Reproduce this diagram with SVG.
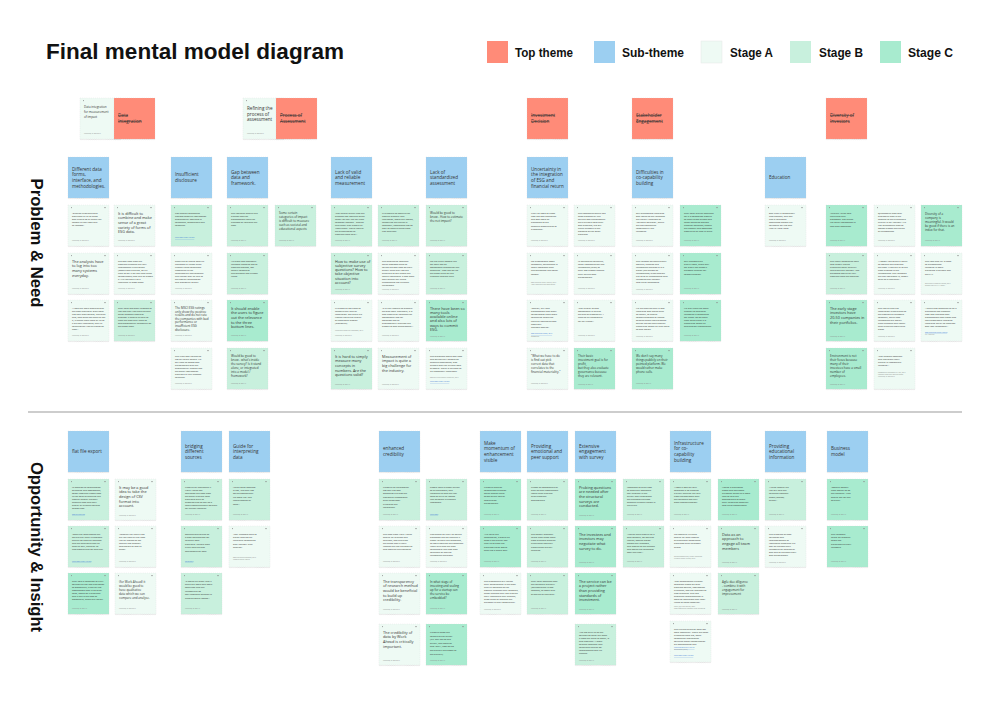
<svg xmlns="http://www.w3.org/2000/svg" xmlns:xlink="http://www.w3.org/1999/xlink" width="1000" height="707" viewBox="0 0 1000 707">
<defs>
<filter id="sh" x="-10%" y="-10%" width="130%" height="130%"><feDropShadow dx="0" dy="0.6" stdDeviation="0.6" flood-color="#000" flood-opacity="0.16"/></filter>
<g id="mk"><rect x="3" y="2.2" width="0.9" height="0.9" fill="#8a8a8a"/><rect x="36.3" y="2.2" width="1.4" height="0.9" fill="#8a8a8a"/></g>
</defs>
<style>
.n{stroke:#d6d6d6;stroke-width:0.35;stroke-dasharray:0.6 1.3;filter:url(#sh)}
.A{fill:#eefaf4}.B{fill:#c8f0dd}.C{fill:#a8ebcf}.T{fill:#ff8b78}.S{fill:#9ccff1}
text{font-family:"Open Sans","Liberation Sans",sans-serif;fill:#333}
.h{font-size:4.6px}
.l{font-size:3.8px}
.m{font-size:3px}
.s{font-size:2.3px}
.f{font-size:1.6px;fill:#8a8a8a}
.k{fill:#3a78d6;text-decoration:underline}
.x{text-decoration:line-through}
.ttl{font-family:"Liberation Sans",Arial,sans-serif;font-weight:bold;fill:#111}
.lg{font-family:"Liberation Sans",Arial,sans-serif;font-weight:bold;font-size:12px;fill:#111}
</style>
<rect width="1000" height="707" fill="#ffffff"/>

<g id="header">
<text class="ttl" x="46" y="59" font-size="22.5" textLength="298" lengthAdjust="spacingAndGlyphs">Final mental model diagram</text>
</g>
<g id="legend">
<rect x="487" y="41" width="21" height="22" class="T"/><text class="lg" x="515" y="56.5" textLength="58" lengthAdjust="spacingAndGlyphs">Top theme</text>
<rect x="594" y="41" width="21" height="22" class="S"/><text class="lg" x="622" y="56.5" textLength="62" lengthAdjust="spacingAndGlyphs">Sub-theme</text>
<rect x="701" y="41" width="21" height="22" class="A" stroke="#e2e2e2" stroke-width="0.4"/><text class="lg" x="730" y="56.5" textLength="43" lengthAdjust="spacingAndGlyphs">Stage A</text>
<rect x="790" y="41" width="21" height="22" class="B"/><text class="lg" x="819" y="56.5" textLength="44" lengthAdjust="spacingAndGlyphs">Stage B</text>
<rect x="880" y="41" width="21" height="22" class="C"/><text class="lg" x="908" y="56.5" textLength="45" lengthAdjust="spacingAndGlyphs">Stage C</text>
</g>

<g id="section-labels">
<text class="ttl" font-size="16.5" text-anchor="middle" dy="0.35em" transform="translate(37,243) rotate(90)" textLength="129" lengthAdjust="spacingAndGlyphs">Problem &amp; Need</text>
<text class="ttl" font-size="16.5" text-anchor="middle" dy="0.35em" transform="translate(37,547) rotate(90)" textLength="170" lengthAdjust="spacingAndGlyphs">Opportunity &amp; Insight</text>
<line x1="28" y1="412" x2="962" y2="412" stroke="#bdbdbd" stroke-width="1.3"/>
</g>

<g id="connectors"></g>

<!-- ===== PROBLEM & NEED : top themes ===== -->
<g id="pn-top-data-integration-note" transform="translate(80,98)"><rect class="n A" width="41" height="41"/><use href="#mk"/><text class="m" y="9.7"><tspan x="4">Data integration</tspan><tspan x="4" dy="5">for measurement</tspan><tspan x="4" dy="5">of impact</tspan></text><text class="f" x="4" y="36">Interview, 24 Sep 2019</text></g>
<g id="pn-top-data-integration" transform="translate(114,98)"><rect class="n T" width="41" height="41"/><text class="h x" y="19.3"><tspan x="4">Data</tspan><tspan x="4" dy="5.6">Integration</tspan></text></g>
<g id="pn-top-process-note" transform="translate(243,98)"><rect class="n A" width="41" height="41"/><use href="#mk"/><text class="h" y="11.8"><tspan x="4">Refining the</tspan><tspan x="4" dy="5.8">process of</tspan><tspan x="4" dy="5.8">assessment</tspan></text><text class="f" x="4" y="36">Interview, 24 Sep 2019</text></g>
<g id="pn-top-process" transform="translate(276,98)"><rect class="n T" width="41" height="41"/><text class="h x" y="19.3"><tspan x="4">Process of</tspan><tspan x="4" dy="5.6">Assessment</tspan></text></g>
<g id="pn-top-investment" transform="translate(527,98)"><rect class="n T" width="41" height="41"/><text class="h x" y="19.3"><tspan x="4">Investment</tspan><tspan x="4" dy="5.6">Decision</tspan></text></g>
<g id="pn-top-stakeholder" transform="translate(632,98)"><rect class="n T" width="41" height="41"/><text class="h x" y="19.3"><tspan x="4">Stakeholder</tspan><tspan x="4" dy="5.6">Engagement</tspan></text></g>
<g id="pn-top-diversity" transform="translate(826,98)"><rect class="n T" width="41" height="41"/><text class="h x" y="19.3"><tspan x="4">Diversity of</tspan><tspan x="4" dy="5.6">Investors</tspan></text></g>

<!-- ===== PROBLEM & NEED : sub-themes ===== -->
<g id="pn-sub-data-forms" transform="translate(68,157)"><rect class="n S" width="41" height="41"/><text class="h" y="13.7"><tspan x="4">Different data</tspan><tspan x="4" dy="5.6">forms,</tspan><tspan x="4" dy="5.6">interface, and</tspan><tspan x="4" dy="5.6">methodologies.</tspan></text></g>
<g id="pn-sub-disclosure" transform="translate(171,157)"><rect class="n S" width="41" height="41"/><text class="h" y="19.3"><tspan x="4">Insufficient</tspan><tspan x="4" dy="5.6">disclosure</tspan></text></g>
<g id="pn-sub-gap" transform="translate(227,157)"><rect class="n S" width="41" height="41"/><text class="h" y="16.5"><tspan x="4">Gap between</tspan><tspan x="4" dy="5.6">data and</tspan><tspan x="4" dy="5.6">framework.</tspan></text></g>
<g id="pn-sub-valid" transform="translate(331,157)"><rect class="n S" width="41" height="41"/><text class="h" y="16.5"><tspan x="4">Lack of valid</tspan><tspan x="4" dy="5.6">and reliable</tspan><tspan x="4" dy="5.6">measurement</tspan></text></g>
<g id="pn-sub-standardized" transform="translate(426,157)"><rect class="n S" width="41" height="41"/><text class="h" y="16.5"><tspan x="4">Lack of</tspan><tspan x="4" dy="5.6">standardized</tspan><tspan x="4" dy="5.6">assessment</tspan></text></g>
<g id="pn-sub-uncertainty" transform="translate(527,157)"><rect class="n S" width="41" height="41"/><text class="h" y="13.7"><tspan x="4">Uncertainty in</tspan><tspan x="4" dy="5.6">the integration</tspan><tspan x="4" dy="5.6">of ESG and</tspan><tspan x="4" dy="5.6">financial return</tspan></text></g>
<g id="pn-sub-difficulties" transform="translate(632,157)"><rect class="n S" width="41" height="41"/><text class="h" y="16.5"><tspan x="4">Difficulties in</tspan><tspan x="4" dy="5.6">co-capability</tspan><tspan x="4" dy="5.6">building</tspan></text></g>
<g id="pn-sub-education" transform="translate(765,157)"><rect class="n S" width="41" height="41"/><text class="h" y="22.1"><tspan x="4">Education</tspan></text></g>

<!-- ===== PROBLEM & NEED : notes ===== -->
<g id="pn-68-1" transform="translate(68,205)"><rect class="n A" width="41" height="41"/><use href="#mk"/><text class="s" y="8.5"><tspan x="4">"External providers with</tspan><tspan x="4" dy="3.1">own-scale or all of these</tspan><tspan x="4" dy="3.1">ESG criteria so all these risk</tspan><tspan x="4" dy="3.1">factors in their own way</tspan><tspan x="4" dy="3.1">at random"</tspan></text><text class="f" x="4" y="36">Interview, 24 Sep 2019</text></g>
<g id="pn-68-2" transform="translate(68,253)"><rect class="n A" width="41" height="41"/><use href="#mk"/><text class="l" y="9.5"><tspan x="4">The analysts have</tspan><tspan x="4" dy="4.7">to log into too</tspan><tspan x="4" dy="4.7">many systems</tspan><tspan x="4" dy="4.7">everyday.</tspan></text><text class="f" x="4" y="36">Interview, 24 Sep 2019</text></g>
<g id="pn-68-3" transform="translate(68,300)"><rect class="n A" width="41" height="41"/><use href="#mk"/><text class="s" y="8.5"><tspan x="4">"I hate the main problem with</tspan><tspan x="4" dy="3.1">the data providers. Everybody</tspan><tspan x="4" dy="3.1">has their own format, including</tspan><tspan x="4" dy="3.1">that, also when we need to use</tspan><tspan x="4" dy="3.1">it, it needs input from all up to</tspan><tspan x="4" dy="3.1">it on their interfaces, they're</tspan><tspan x="4" dy="3.1">continuously just be changing</tspan><tspan x="4" dy="3.1">data."</tspan></text><text class="f" x="4" y="36">Interview, 24 Sep 2019</text></g>

<g id="pn-114-1" transform="translate(114,205)"><rect class="n A" width="41" height="41"/><use href="#mk"/><text class="l" y="9.5"><tspan x="4">It is difficult to</tspan><tspan x="4" dy="4.7">combine and make</tspan><tspan x="4" dy="4.7">sense of a great</tspan><tspan x="4" dy="4.7">variety of forms of</tspan><tspan x="4" dy="4.7">ESG data.</tspan></text><text class="f" x="4" y="36">Interview, 24 Sep 2019</text></g>
<g id="pn-114-2" transform="translate(114,253)"><rect class="n A" width="41" height="41"/><use href="#mk"/><text class="s" y="8.5"><tspan x="4">The ESG data from the</tspan><tspan x="4" dy="3.1">different channels are very</tspan><tspan x="4" dy="3.1">inconsistent in the forms.</tspan><tspan x="4" dy="3.1">(Stated with pictures, so it's</tspan><tspan x="4" dy="3.1">hard to say if we can have them</tspan><tspan x="4" dy="3.1">consolidated) also due to reason</tspan><tspan x="4" dy="3.1">it. We just take it as a</tspan><tspan x="4" dy="3.1">reference in most cases.</tspan></text><text class="f" x="4" y="36">Interview, 24 Sep 2019</text></g>
<g id="pn-114-3" transform="translate(114,300)"><rect class="n B" width="41" height="41"/><use href="#mk"/><text class="s" y="8.5"><tspan x="4">They have too many systems to</tspan><tspan x="4" dy="3.1">use and they just have to keep</tspan><tspan x="4" dy="3.1">going between different</tspan><tspan x="4" dy="3.1">systems. It should be able to</tspan><tspan x="4" dy="3.1">have the data they need as</tspan><tspan x="4" dy="3.1">straightforwardly accessible on</tspan><tspan x="4" dy="3.1">the same page.</tspan></text><text class="f" x="4" y="36">Interview, 26 Sep 2019</text></g>

<g id="pn-171-1" transform="translate(171,205)"><rect class="n B" width="41" height="41"/><use href="#mk"/><text class="s" y="8.5"><tspan x="4">Not enough companies</tspan><tspan x="4" dy="3.1">disclose material information</tspan><tspan x="4" dy="3.1">sustainability data that is</tspan><tspan x="4" dy="3.1">consistent, comparable and</tspan><tspan x="4" dy="3.1">complete.</tspan></text><text class="f k" x="4" y="33">Read more about this one</text></g>
<g id="pn-171-2" transform="translate(171,253)"><rect class="n A" width="41" height="41"/><use href="#mk"/><text class="s" y="8.5"><tspan x="4">Referring to recent data it's</tspan><tspan x="4" dy="3.1">narrowed by these given</tspan><tspan x="4" dy="3.1">human rights conditions</tspan><tspan x="4" dy="3.1">happening in the</tspan><tspan x="4" dy="3.1">manufacture environment.</tspan><tspan x="4" dy="3.1">The refusal may be due to</tspan><tspan x="4" dy="3.1">the cost of investigation</tspan><tspan x="4" dy="3.1">and disclosure as well.</tspan></text><text class="f" x="4" y="36">Interview, 24 Sep 2019</text></g>
<g id="pn-171-3" transform="translate(171,300)"><rect class="n A" width="41" height="41"/><use href="#mk"/><text class="m" y="9"><tspan x="4">The MSCI ESG ratings</tspan><tspan x="4" dy="3.6">only show the positive</tspan><tspan x="4" dy="3.6">results and do not rate</tspan><tspan x="4" dy="3.6">the companies with bad</tspan><tspan x="4" dy="3.6">performance or</tspan><tspan x="4" dy="3.6">insufficient ESG</tspan><tspan x="4" dy="3.6">disclosure.</tspan></text><text class="f" x="4" y="36">Interview, 24 Sep 2019</text></g>
<g id="pn-171-4" transform="translate(171,348)"><rect class="n A" width="41" height="41"/><use href="#mk"/><text class="s" y="8.5"><tspan x="4">The MSCI ESG ratings do</tspan><tspan x="4" dy="3.1">not tell much details. We</tspan><tspan x="4" dy="3.1">still have to assess ESG</tspan><tspan x="4" dy="3.1">performance with the</tspan><tspan x="4" dy="3.1">sustainability reports and</tspan><tspan x="4" dy="3.1">the other information</tspan><tspan x="4" dy="3.1">provided by the investee</tspan><tspan x="4" dy="3.1">founders.</tspan></text><text class="f" x="4" y="36">Interview, 24 Sep 2019</text></g>

<g id="pn-227-1" transform="translate(227,205)"><rect class="n B" width="41" height="41"/><use href="#mk"/><text class="s" y="8.5"><tspan x="4">The interface should give</tspan><tspan x="4" dy="3.1">a sense that the</tspan><tspan x="4" dy="3.1">professionals have the</tspan><tspan x="4" dy="3.1">freedom to interpret the</tspan><tspan x="4" dy="3.1">data.</tspan></text><text class="f" x="4" y="36">Interview, 26 Sep 19</text></g>
<g id="pn-227-2" transform="translate(227,253)"><rect class="n B" width="41" height="41"/><use href="#mk"/><text class="s" y="8.5"><tspan x="4">An single ESG standard/</tspan><tspan x="4" dy="3.1">indicator contains lots of</tspan><tspan x="4" dy="3.1">different aspects, not</tspan><tspan x="4" dy="3.1">merely complaint</tspan><tspan x="4" dy="3.1">environment and human</tspan><tspan x="4" dy="3.1">rights.</tspan></text><text class="f" x="4" y="36">Interview, 26 Sep 19</text></g>
<g id="pn-227-3" transform="translate(227,300)"><rect class="n C" width="41" height="41"/><use href="#mk"/><text class="l" y="9.5"><tspan x="4">It should enable</tspan><tspan x="4" dy="4.7">the users to figure</tspan><tspan x="4" dy="4.7">out the relevance</tspan><tspan x="4" dy="4.7">to the three</tspan><tspan x="4" dy="4.7">bottom lines.</tspan></text><text class="f" x="4" y="36">Interview, 26 Sep 19</text></g>
<g id="pn-227-4" transform="translate(227,348)"><rect class="n B" width="41" height="41"/><use href="#mk"/><text class="m" y="9"><tspan x="4">Would be good to</tspan><tspan x="4" dy="3.9">know - what's inside</tspan><tspan x="4" dy="3.9">the survey? Is it stand</tspan><tspan x="4" dy="3.9">alone, or integrated</tspan><tspan x="4" dy="3.9">into a model /</tspan><tspan x="4" dy="3.9">framework?</tspan></text><text class="f" x="4" y="36">Interview, 26 Sep 19</text></g>

<g id="pn-275-1" transform="translate(275,205)"><rect class="n B" width="41" height="41"/><use href="#mk"/><text class="m" y="9"><tspan x="4">Some certain</tspan><tspan x="4" dy="3.9">categories of impact</tspan><tspan x="4" dy="3.9">is difficult to measure</tspan><tspan x="4" dy="3.9">such as societal and</tspan><tspan x="4" dy="3.9">educational aspects</tspan></text><text class="f" x="4" y="36">Interview, 26 Sep 19</text></g>

<g id="pn-331-1" transform="translate(331,205)"><rect class="n B" width="41" height="41"/><use href="#mk"/><text class="s" y="8.5"><tspan x="4">"The annual survey that the</tspan><tspan x="4" dy="3.1">question ask wording which</tspan><tspan x="4" dy="3.1">make you feel 'do you have</tspan><tspan x="4" dy="3.1">common impacts' - around</tspan><tspan x="4" dy="3.1">everybody else 'always' or</tspan><tspan x="4" dy="3.1">'used alone'. Could require</tspan><tspan x="4" dy="3.1">the organization to</tspan><tspan x="4" dy="3.1">different from here."</tspan></text><text class="f" x="4" y="36">Interview, 26 Sep 19</text></g>
<g id="pn-331-2" transform="translate(331,253)"><rect class="n B" width="41" height="41"/><use href="#mk"/><text class="l" y="9.5"><tspan x="4">How to make use of</tspan><tspan x="4" dy="4.3">subjective survey</tspan><tspan x="4" dy="4.3">questions? How to</tspan><tspan x="4" dy="4.3">take objective</tspan><tspan x="4" dy="4.3">situation into</tspan><tspan x="4" dy="4.3">account?</tspan></text><text class="f" x="4" y="36.5">Interview, 26 Sep 19</text></g>
<g id="pn-331-3" transform="translate(331,300)"><rect class="n A" width="41" height="41"/><use href="#mk"/><text class="s" y="8.5"><tspan x="4">It is good to ask them to</tspan><tspan x="4" dy="3.1">measure the level of</tspan><tspan x="4" dy="3.1">integration. But there is a</tspan><tspan x="4" dy="3.1">limited use of the quality</tspan><tspan x="4" dy="3.1">of integrated reports</tspan><tspan x="4" dy="3.1">(disclosure).</tspan></text><text class="f" x="4" y="31">Integrated reporting framework, 2019</text><text class="f" x="4" y="36">Interview, 24 Sep 2019</text></g>
<g id="pn-331-4" transform="translate(331,348)"><rect class="n B" width="41" height="41"/><use href="#mk"/><text class="l" y="9.5"><tspan x="4">It is hard to simply</tspan><tspan x="4" dy="4.7">measure many</tspan><tspan x="4" dy="4.7">concepts in</tspan><tspan x="4" dy="4.7">numbers. Are the</tspan><tspan x="4" dy="4.7">questions valid?</tspan></text><text class="f" x="4" y="36.5">Interview, 26 Sep 19</text></g>

<g id="pn-378-1" transform="translate(378,205)"><rect class="n B" width="41" height="41"/><use href="#mk"/><text class="s" y="8.5"><tspan x="4">It is difficult to capture the</tspan><tspan x="4" dy="3.1">data on quantity and</tspan><tspan x="4" dy="3.1">realization, about the impact,</tspan><tspan x="4" dy="3.1">measuring the values in</tspan><tspan x="4" dy="3.1">monetary, sometimes not so</tspan><tspan x="4" dy="3.1">easy to capture them from</tspan><tspan x="4" dy="3.1">just language.</tspan></text><text class="f" x="4" y="36">Interview, 26 Sep 19</text></g>
<g id="pn-378-2" transform="translate(378,253)"><rect class="n A" width="41" height="41"/><use href="#mk"/><text class="s" y="8.5"><tspan x="4">The accounting company</tspan><tspan x="4" dy="3.1">which assesses them to</tspan><tspan x="4" dy="3.1">collect the ESG data on their</tspan><tspan x="4" dy="3.1">supply chain only ask the</tspan><tspan x="4" dy="3.1">suppliers to self-report the</tspan><tspan x="4" dy="3.1">labour conditions. It was done</tspan><tspan x="4" dy="3.1">with neither any direct</tspan><tspan x="4" dy="3.1">engagement nor external</tspan><tspan x="4" dy="3.1">verification.</tspan></text><text class="f" x="4" y="37">Interview, 24 Sep 2019</text></g>
<g id="pn-378-3" transform="translate(378,300)"><rect class="n A" width="41" height="41"/><use href="#mk"/><text class="s" y="8.5"><tspan x="4">"It is very difficult to quantify</tspan><tspan x="4" dy="3.1">the ESG data. Therefore, it is</tspan><tspan x="4" dy="3.1">also difficult to integrate the</tspan><tspan x="4" dy="3.1">assessment into my</tspan><tspan x="4" dy="3.1">workflow and to</tspan><tspan x="4" dy="3.1">systematically evaluate the</tspan><tspan x="4" dy="3.1">growth of ESG performance."</tspan></text><text class="f" x="4" y="36">Interview, 24 Sep 2019</text></g>
<g id="pn-378-4" transform="translate(378,348)"><rect class="n A" width="41" height="41"/><use href="#mk"/><text class="l" y="9.5"><tspan x="4">Measurement of</tspan><tspan x="4" dy="4.7">impact is quite a</tspan><tspan x="4" dy="4.7">big challenge for</tspan><tspan x="4" dy="4.7">the industry.</tspan></text><text class="f" x="4" y="36.5">Interview, 24 Sep 2019</text></g>

<g id="pn-426-1" transform="translate(426,205)"><rect class="n B" width="41" height="41"/><use href="#mk"/><text class="m" y="9"><tspan x="4">Would be good to</tspan><tspan x="4" dy="3.9">know - How to estimate</tspan><tspan x="4" dy="3.9">the net impact?</tspan></text><text class="f" x="4" y="36">Interview, 26 Sep 19</text></g>
<g id="pn-426-2" transform="translate(426,253)"><rect class="n B" width="41" height="41"/><use href="#mk"/><text class="s" y="8.5"><tspan x="4">For the triple bottom line</tspan><tspan x="4" dy="3.1">we have had an</tspan><tspan x="4" dy="3.1">assessment process for the</tspan><tspan x="4" dy="3.1">financials - how can we do</tspan><tspan x="4" dy="3.1">the same thing for the</tspan><tspan x="4" dy="3.1">humans involved here.</tspan></text><text class="f" x="4" y="36">Interview, 26 Sep 19</text></g>
<g id="pn-426-3" transform="translate(426,300)"><rect class="n C" width="41" height="41"/><use href="#mk"/><text class="l" y="9.5"><tspan x="4">There have been so</tspan><tspan x="4" dy="4.3">many tools</tspan><tspan x="4" dy="4.3">available online</tspan><tspan x="4" dy="4.3">and also lots of</tspan><tspan x="4" dy="4.3">ways to commit</tspan><tspan x="4" dy="4.3">ESG.</tspan></text><text class="f" x="4" y="36.5">Interview, 26 Sep 19</text></g>
<g id="pn-426-4" transform="translate(426,348)"><rect class="n A" width="41" height="41"/><use href="#mk"/><text class="s" y="8.5"><tspan x="4">The questions about ESG data</tspan><tspan x="4" dy="3.1">and structurally comparing</tspan><tspan x="4" dy="3.1">financial statements, also</tspan><tspan x="4" dy="3.1">aligned with the current data</tspan><tspan x="4" dy="3.1">of affairs. There is no hope to</tspan><tspan x="4" dy="3.1">be reasonably integrated.</tspan></text><text class="f" x="4" y="29.5">ESG data and financial reporting, 2019</text><text class="f k" x="4" y="34">Read more about this one</text></g>

<g id="pn-527-1" transform="translate(527,205)"><rect class="n A" width="41" height="41"/><use href="#mk"/><text class="s" y="8.5"><tspan x="4">It will be good to know</tspan><tspan x="4" dy="3.3">how can ESG standards</tspan><tspan x="4" dy="3.3">and ESG goals be</tspan><tspan x="4" dy="3.3">translated to the</tspan><tspan x="4" dy="3.3">financial materialities of</tspan><tspan x="4" dy="3.3">a company.</tspan></text><text class="f" x="4" y="36">Interview, 24 Sep 2019</text></g>
<g id="pn-527-2" transform="translate(527,253)"><rect class="n A" width="41" height="41"/><use href="#mk"/><text class="s" y="8.5"><tspan x="4">For professional asset</tspan><tspan x="4" dy="3.3">managers, governance is</tspan><tspan x="4" dy="3.3">more important than</tspan><tspan x="4" dy="3.3">environmental and social</tspan><tspan x="4" dy="3.3">factors.</tspan></text><text class="f" x="4" y="30">ESG investing survey results, 2019</text><text class="f" x="4" y="32">Asset managers and governance</text></g>
<g id="pn-527-3" transform="translate(527,300)"><rect class="n A" width="41" height="41"/><use href="#mk"/><text class="s" y="8.5"><tspan x="4">"Overall, buy-side</tspan><tspan x="4" dy="3.3">professionals and many</tspan><tspan x="4" dy="3.3">corporations need more</tspan><tspan x="4" dy="3.3">convincing about the</tspan><tspan x="4" dy="3.3">value of integrating ESG</tspan><tspan x="4" dy="3.3">data their</tspan><tspan x="4" dy="3.3">decision making"</tspan></text><text class="f k" x="4" y="34">ESG integration report, 2019</text><text class="f" x="4" y="36.5">Bloomberg</text></g>
<g id="pn-527-4" transform="translate(527,348)"><rect class="n A" width="41" height="41"/><use href="#mk"/><text class="m" y="9"><tspan x="4">"What we have to do</tspan><tspan x="4" dy="3.9">is find out pick</tspan><tspan x="4" dy="3.9">correct data that</tspan><tspan x="4" dy="3.9">correlates to the</tspan><tspan x="4" dy="3.9">financial materiality."</tspan></text><text class="f" x="4" y="36">Interview, 24 Sep 2019</text></g>

<g id="pn-574-1" transform="translate(574,205)"><rect class="n A" width="41" height="41"/><use href="#mk"/><text class="s" y="8.5"><tspan x="4">The companies which has</tspan><tspan x="4" dy="3.1">good profitability but</tspan><tspan x="4" dy="3.1">terrible ESG performance</tspan><tspan x="4" dy="3.1">are excluded from their</tspan><tspan x="4" dy="3.1">ESG products, but still</tspan><tspan x="4" dy="3.1">being invested in the</tspan><tspan x="4" dy="3.1">portfolio of the other</tspan><tspan x="4" dy="3.1">products.</tspan></text><text class="f" x="4" y="36">Interview, 24 Sep 2019</text></g>
<g id="pn-574-2" transform="translate(574,253)"><rect class="n A" width="41" height="41"/><use href="#mk"/><text class="s" y="8.5"><tspan x="4">In developing countries,</tspan><tspan x="4" dy="3.3">many companies still get</tspan><tspan x="4" dy="3.3">investment (arise) of</tspan><tspan x="4" dy="3.3">their fast growth despite</tspan><tspan x="4" dy="3.3">their terrible ESG</tspan><tspan x="4" dy="3.3">performance.</tspan></text><text class="f" x="4" y="36">Interview, 24 Sep 2019</text></g>
<g id="pn-574-3" transform="translate(574,300)"><rect class="n A" width="41" height="41"/><use href="#mk"/><text class="s" y="8.5"><tspan x="4">"The priority of ESG</tspan><tspan x="4" dy="3.3">assessment is behind</tspan><tspan x="4" dy="3.3">the one of profitability. I</tspan><tspan x="4" dy="3.3">need to be responsible</tspan><tspan x="4" dy="3.3">for my clients."</tspan></text><text class="f" x="4" y="36">Interview, 24 Sep 2019</text></g>
<g id="pn-574-4" transform="translate(574,348)"><rect class="n C" width="41" height="41"/><use href="#mk"/><text class="m" y="9"><tspan x="4">Their basic</tspan><tspan x="4" dy="3.9">investment goal is for</tspan><tspan x="4" dy="3.9">profit,</tspan><tspan x="4" dy="3.9">but they also evaluate</tspan><tspan x="4" dy="3.9">governance because</tspan><tspan x="4" dy="3.9">they are relevant.</tspan></text><text class="f" x="4" y="36.5">Interview, 26 Sep 19</text></g>

<g id="pn-632-1" transform="translate(632,205)"><rect class="n A" width="41" height="41"/><use href="#mk"/><text class="s" y="8.5"><tspan x="4">Our suggestions regarding</tspan><tspan x="4" dy="3.1">ESG issues to the investees</tspan><tspan x="4" dy="3.1">are usually regarded as</tspan><tspan x="4" dy="3.1">"valuable opinions", which</tspan><tspan x="4" dy="3.1">are not considered</tspan><tspan x="4" dy="3.1">important by the</tspan><tspan x="4" dy="3.1">investees.</tspan></text><text class="f" x="4" y="36">Interview, 24 Sep 2019</text></g>
<g id="pn-632-2" transform="translate(632,253)"><rect class="n A" width="41" height="41"/><use href="#mk"/><text class="s" y="8.5"><tspan x="4">The investor founders aren't</tspan><tspan x="4" dy="3.1">worried, because this</tspan><tspan x="4" dy="3.1">investment decision is in a</tspan><tspan x="4" dy="3.1">pretty (the person of</tspan><tspan x="4" dy="3.1">investments) is not enough</tspan><tspan x="4" dy="3.1">but as to all engagement with</tspan><tspan x="4" dy="3.1">investees and industry</tspan><tspan x="4" dy="3.1">long-term investment.</tspan></text><text class="f" x="4" y="36.5">Interview, 24 Sep 2019</text></g>
<g id="pn-632-3" transform="translate(632,300)"><rect class="n A" width="41" height="41"/><use href="#mk"/><text class="s" y="8.5"><tspan x="4">We are worried they'd lose</tspan><tspan x="4" dy="3.1">regarding ESG issues such</tspan><tspan x="4" dy="3.1">as labour, to ensure</tspan><tspan x="4" dy="3.1">communications or repeat</tspan><tspan x="4" dy="3.1">sending these requirements.</tspan><tspan x="4" dy="3.1">But we do not have enough</tspan><tspan x="4" dy="3.1">bargaining power to urge them</tspan><tspan x="4" dy="3.1">to take action.</tspan></text><text class="f" x="4" y="36.5">Interview, 24 Sep 2019</text></g>
<g id="pn-632-4" transform="translate(632,348)"><rect class="n C" width="41" height="41"/><use href="#mk"/><text class="m" y="9"><tspan x="4">We don't say many</tspan><tspan x="4" dy="3.9">things publicly on their</tspan><tspan x="4" dy="3.9">pointed platform. We</tspan><tspan x="4" dy="3.9">would rather make</tspan><tspan x="4" dy="3.9">phone calls.</tspan></text><text class="f" x="4" y="36">Interview, 26 Sep 19</text></g>

<g id="pn-680-1" transform="translate(680,205)"><rect class="n C" width="41" height="41"/><use href="#mk"/><text class="s" y="8.5"><tspan x="4">They have regular meetings</tspan><tspan x="4" dy="3.1">for it is somewhat difficult</tspan><tspan x="4" dy="3.1">to keep things private and</tspan><tspan x="4" dy="3.1">make concerns opened</tspan><tspan x="4" dy="3.1">because meetings, people</tspan><tspan x="4" dy="3.1">are hopeful and somehow</tspan><tspan x="4" dy="3.1">difficult to be kept in mind.</tspan></text><text class="f" x="4" y="36">Interview, 26 Sep 19</text></g>
<g id="pn-680-2" transform="translate(680,253)"><rect class="n C" width="41" height="41"/><use href="#mk"/><text class="s" y="8.5"><tspan x="4">Our investees are</tspan><tspan x="4" dy="3.3">public-listed, that's why</tspan><tspan x="4" dy="3.3">we didn't use demo-ti</tspan><tspan x="4" dy="3.3">personal channel for</tspan><tspan x="4" dy="3.3">communication.</tspan></text><text class="f" x="4" y="36">Interview, 26 Sep 19</text></g>
<g id="pn-680-3" transform="translate(680,300)"><rect class="n C" width="41" height="41"/><use href="#mk"/><text class="s" y="8.5"><tspan x="4">We only have the small</tspan><tspan x="4" dy="3.1">number of shares of</tspan><tspan x="4" dy="3.1">investees in companies</tspan><tspan x="4" dy="3.1">we invest. So we don't</tspan><tspan x="4" dy="3.1">have much since it is</tspan><tspan x="4" dy="3.1">bargaining power of</tspan><tspan x="4" dy="3.1">shareholder engagement.</tspan></text><text class="f" x="4" y="36">Interview, 26 Sep 19</text></g>

<g id="pn-765-1" transform="translate(765,205)"><rect class="n A" width="41" height="41"/><use href="#mk"/><text class="s" y="8.5"><tspan x="4">ESG is still a comparably</tspan><tspan x="4" dy="3.1">new concept, and has</tspan><tspan x="4" dy="3.1">had a increasing</tspan><tspan x="4" dy="3.1">awareness among her</tspan><tspan x="4" dy="3.1">colleague for just one</tspan><tspan x="4" dy="3.1">year in Hong Kong.</tspan></text><text class="f" x="4" y="36">Interview, 24 Sep 2019</text></g>

<g id="pn-826-1" transform="translate(826,205)"><rect class="n C" width="41" height="41"/><use href="#mk"/><text class="s" y="8.5"><tspan x="4">"Culture" is the core</tspan><tspan x="4" dy="3.3">value that they</tspan><tspan x="4" dy="3.3">promoted. The things</tspan><tspan x="4" dy="3.3">like salary satisfaction is</tspan><tspan x="4" dy="3.3">less than important.</tspan></text><text class="f" x="4" y="36">Interview, 26 Sep 19</text></g>
<g id="pn-826-2" transform="translate(826,253)"><rect class="n B" width="41" height="41"/><use href="#mk"/><text class="s" y="8.5"><tspan x="4">The larger companies have</tspan><tspan x="4" dy="3.1">long supply chains</tspan><tspan x="4" dy="3.1">extending many miles by</tspan><tspan x="4" dy="3.1">levels and the industry. The</tspan><tspan x="4" dy="3.1">situations would be very</tspan><tspan x="4" dy="3.1">different from the startups.</tspan></text><text class="f" x="4" y="36">Interview, 26 Sep 19</text></g>
<g id="pn-826-3" transform="translate(826,300)"><rect class="n C" width="41" height="41"/><use href="#mk"/><text class="l" y="9.5"><tspan x="4">The early stage</tspan><tspan x="4" dy="4.7">investors have</tspan><tspan x="4" dy="4.7">20-50 companies in</tspan><tspan x="4" dy="4.7">their portfolios.</tspan></text><text class="f" x="4" y="36.5">Interview, 26 Sep 19</text></g>
<g id="pn-826-4" transform="translate(826,348)"><rect class="n C" width="41" height="41"/><use href="#mk"/><text class="m" y="9"><tspan x="4">Environment is not</tspan><tspan x="4" dy="3.9">their focus because</tspan><tspan x="4" dy="3.9">many of their</tspan><tspan x="4" dy="3.9">investees have a small</tspan><tspan x="4" dy="3.9">number of</tspan><tspan x="4" dy="3.9">employees.</tspan></text><text class="f" x="4" y="36.5">Interview, 26 Sep 19</text></g>

<g id="pn-874-1" transform="translate(874,205)"><rect class="n A" width="41" height="41"/><use href="#mk"/><text class="s" y="8.5"><tspan x="4">Quantitative data over</tspan><tspan x="4" dy="3.1">qualitative data is the</tspan><tspan x="4" dy="3.1">essence of the exchange's</tspan><tspan x="4" dy="3.1">culture in my industry. We</tspan><tspan x="4" dy="3.1">use quantitative data to</tspan><tspan x="4" dy="3.1">assess almost everything</tspan><tspan x="4" dy="3.1">of investments.</tspan></text><text class="f" x="4" y="36">Interview, 24 Sep 2019</text></g>
<g id="pn-874-2" transform="translate(874,253)"><rect class="n A" width="41" height="41"/><use href="#mk"/><text class="s" y="8.5"><tspan x="4">"I mostly use found a result</tspan><tspan x="4" dy="3.1">as models and provides</tspan><tspan x="4" dy="3.1">the data. What are all of the</tspan><tspan x="4" dy="3.1">basic process in the</tspan><tspan x="4" dy="3.1">investments. The investors</tspan><tspan x="4" dy="3.1">are not interested in, mostly</tspan><tspan x="4" dy="3.1">seen as a reference."</tspan></text><text class="f" x="4" y="36">Interview, 24 Sep 2019</text></g>
<g id="pn-874-3" transform="translate(874,300)"><rect class="n A" width="41" height="41"/><use href="#mk"/><text class="s" y="8.5"><tspan x="4">The lack of help the</tspan><tspan x="4" dy="3.1">integration is attributed to</tspan><tspan x="4" dy="3.1">the essence of investors'</tspan><tspan x="4" dy="3.1">company, which was</tspan><tspan x="4" dy="3.1">investment are mainly</tspan><tspan x="4" dy="3.1">been engaged and rather</tspan><tspan x="4" dy="3.1">than pursuing short term</tspan><tspan x="4" dy="3.1">profit.</tspan></text><text class="f" x="4" y="36.5">Interview, 24 Sep 2019</text></g>
<g id="pn-874-4" transform="translate(874,348)"><rect class="n A" width="41" height="41"/><use href="#mk"/><text class="s" y="8.5"><tspan x="4">"The pension company</tspan><tspan x="4" dy="3.3">and insurance really</tspan><tspan x="4" dy="3.3">believe in responsible</tspan><tspan x="4" dy="3.3">investing."</tspan></text><text class="f" x="4" y="25">Responsible investment in Asia, 2019</text><text class="f" x="4" y="27">Pension funds and insurers report</text><text class="f" x="4" y="29">Interview, 24 Sep 2019</text></g>

<g id="pn-921-1" transform="translate(921,205)"><rect class="n C" width="41" height="41"/><use href="#mk"/><text class="m" y="9.5"><tspan x="4">Diversity of a</tspan><tspan x="4" dy="4">company is</tspan><tspan x="4" dy="4">meaningful. It would</tspan><tspan x="4" dy="4">be good if there is an</tspan><tspan x="4" dy="4">index for that.</tspan></text><text class="f" x="4" y="36">Interview, 26 Sep 19</text></g>
<g id="pn-921-2" transform="translate(921,253)"><rect class="n A" width="41" height="41"/><use href="#mk"/><text class="s" y="8.5"><tspan x="4">The idea that UN is close</tspan><tspan x="4" dy="3.3">to fundamental</tspan><tspan x="4" dy="3.3">investing is more</tspan><tspan x="4" dy="3.3">prevalent in Europe and</tspan><tspan x="4" dy="3.3">the U.K.</tspan></text><text class="f" x="4" y="31">Sustainable investing review, 2019</text><text class="f" x="4" y="33">Europe and the U.K. report</text></g>
<g id="pn-921-3" transform="translate(921,300)"><rect class="n A" width="41" height="41"/><use href="#mk"/><text class="s" y="8.5"><tspan x="4">" There also appeared to be a</tspan><tspan x="4" dy="3.1">significant gap between</tspan><tspan x="4" dy="3.1">how new entrants with</tspan><tspan x="4" dy="3.1">professionals with those that</tspan><tspan x="4" dy="3.1">lead sustainable investing</tspan><tspan x="4" dy="3.1">regarding ability to integrate</tspan><tspan x="4" dy="3.1">ESG into investment."</tspan></text><text class="f k" x="4" y="32.5">ESG integration survey results</text><text class="f" x="4" y="34.5">CFA Institute</text></g>

<!-- ===== OPPORTUNITY & INSIGHT : sub-themes ===== -->
<g id="oi-sub-flat-file" transform="translate(68,431)"><rect class="n S" width="41" height="41"/><text class="h" y="22.1"><tspan x="4">flat file export</tspan></text></g>
<g id="oi-sub-bridging" transform="translate(181,431)"><rect class="n S" width="41" height="41"/><text class="h" y="16.5"><tspan x="4">bridging</tspan><tspan x="4" dy="5.6">different</tspan><tspan x="4" dy="5.6">sources</tspan></text></g>
<g id="oi-sub-guide" transform="translate(229,431)"><rect class="n S" width="41" height="41"/><text class="h" y="16.5"><tspan x="4">Guide for</tspan><tspan x="4" dy="5.6">interpreting</tspan><tspan x="4" dy="5.6">data</tspan></text></g>
<g id="oi-sub-credibility" transform="translate(379,431)"><rect class="n S" width="41" height="41"/><text class="h" y="19.3"><tspan x="4">enhanced</tspan><tspan x="4" dy="5.6">credibility</tspan></text></g>
<g id="oi-sub-momentum" transform="translate(480,431)"><rect class="n S" width="41" height="41"/><text class="h" y="13.7"><tspan x="4">Make</tspan><tspan x="4" dy="5.6">momentum of</tspan><tspan x="4" dy="5.6">enhancement</tspan><tspan x="4" dy="5.6">visible</tspan></text></g>
<g id="oi-sub-emotional" transform="translate(527,431)"><rect class="n S" width="41" height="41"/><text class="h" y="16.5"><tspan x="4">Providing</tspan><tspan x="4" dy="5.6">emotional and</tspan><tspan x="4" dy="5.6">peer support</tspan></text></g>
<g id="oi-sub-survey" transform="translate(575,431)"><rect class="n S" width="41" height="41"/><text class="h" y="16.5"><tspan x="4">Extensive</tspan><tspan x="4" dy="5.6">engagement</tspan><tspan x="4" dy="5.6">with survey</tspan></text></g>
<g id="oi-sub-infrastructure" transform="translate(670,431)"><rect class="n S" width="41" height="41"/><text class="h" y="13.7"><tspan x="4">Infrastructure</tspan><tspan x="4" dy="5.6">for co-</tspan><tspan x="4" dy="5.6">capability</tspan><tspan x="4" dy="5.6">building</tspan></text></g>
<g id="oi-sub-educational" transform="translate(765,431)"><rect class="n S" width="41" height="41"/><text class="h" y="16.5"><tspan x="4">Providing</tspan><tspan x="4" dy="5.6">educational</tspan><tspan x="4" dy="5.6">information</tspan></text></g>
<g id="oi-sub-business" transform="translate(827,431)"><rect class="n S" width="41" height="41"/><text class="h" y="19.3"><tspan x="4">Business</tspan><tspan x="4" dy="5.6">model</tspan></text></g>

<!-- ===== OPPORTUNITY & INSIGHT : notes ===== -->
<g id="oi-68-1" transform="translate(68,479)"><rect class="n B" width="41" height="41"/><use href="#mk"/><text class="s" y="8.5"><tspan x="4">In addition to conventional</tspan><tspan x="4" dy="3.1">screening and assessment,</tspan><tspan x="4" dy="3.1">some reporting-based data</tspan><tspan x="4" dy="3.1">in the form of checking the</tspan><tspan x="4" dy="3.1">data to identify industry</tspan><tspan x="4" dy="3.1">financial data and their</tspan><tspan x="4" dy="3.1">quality or existing sources</tspan><tspan x="4" dy="3.1">across time.</tspan></text><text class="f k" x="4" y="35.5">ESG data sources</text></g>
<g id="oi-68-2" transform="translate(68,526)"><rect class="n B" width="41" height="41"/><use href="#mk"/><text class="s" y="8.5"><tspan x="4">"Once the data flashes the</tspan><tspan x="4" dy="3.1">flat file/CSV then it becomes</tspan><tspan x="4" dy="3.1">there's no need of interface</tspan><tspan x="4" dy="3.1">and the analysts prefer to</tspan><tspan x="4" dy="3.1">analyze only, opening up</tspan><tspan x="4" dy="3.1">new possibilities for analysis"</tspan></text><text class="f k" x="4" y="35.5">Read more about this one</text></g>
<g id="oi-68-3" transform="translate(68,573)"><rect class="n C" width="41" height="41"/><use href="#mk"/><text class="s" y="8.5"><tspan x="4">They hold a database of a full</tspan><tspan x="4" dy="3.1">solution of risk and evaluation</tspan><tspan x="4" dy="3.1">to Bloomberg, it can be just</tspan><tspan x="4" dy="3.1">downloaded and in an Excel</tspan><tspan x="4" dy="3.1">form, based on it provided</tspan><tspan x="4" dy="3.1">and if this is the data of</tspan><tspan x="4" dy="3.1">Bloomberg, these are just ok.</tspan></text><text class="f" x="4" y="36">Interview, 26 Sep 19</text></g>

<g id="oi-115-1" transform="translate(115,479)"><rect class="n A" width="41" height="41"/><use href="#mk"/><text class="l" y="9.5"><tspan x="4">It may be a good</tspan><tspan x="4" dy="4.7">idea to take the</tspan><tspan x="4" dy="4.7">design of CSV</tspan><tspan x="4" dy="4.7">format into</tspan><tspan x="4" dy="4.7">account.</tspan></text><text class="f" x="4" y="36.5">Interview, 24 Sep 2019</text></g>
<g id="oi-115-2" transform="translate(115,526)"><rect class="n A" width="41" height="41"/><use href="#mk"/><text class="s" y="8.5"><tspan x="4">"Imagine you have a flat</tspan><tspan x="4" dy="3.1">file you have all the data</tspan><tspan x="4" dy="3.1">you've instead of me</tspan><tspan x="4" dy="3.1">logging into another</tspan><tspan x="4" dy="3.1">application to look at</tspan><tspan x="4" dy="3.1">these"</tspan></text><text class="f" x="4" y="36">Interview, 24 Sep 2019</text></g>
<g id="oi-115-3" transform="translate(115,573)"><rect class="n A" width="41" height="41"/><use href="#mk"/><text class="m" y="9.5"><tspan x="4">(for Work Ahead) it</tspan><tspan x="4" dy="4">would be good to</tspan><tspan x="4" dy="4">have qualitative</tspan><tspan x="4" dy="4">data which we can</tspan><tspan x="4" dy="4">compare and analyse.</tspan></text><text class="f" x="4" y="36">Interview, 24 Sep 2019</text></g>

<g id="oi-181-1" transform="translate(181,479)"><rect class="n B" width="41" height="41"/><use href="#mk"/><text class="s" y="8.5"><tspan x="4">It would be interesting if</tspan><tspan x="4" dy="3.1">Work Ahead can</tspan><tspan x="4" dy="3.1">aggregate the data from</tspan><tspan x="4" dy="3.1">the other external data</tspan><tspan x="4" dy="3.1">providers such as</tspan><tspan x="4" dy="3.1">Sustainalytics as well as a</tspan><tspan x="4" dy="3.1">more comprehensive solution</tspan><tspan x="4" dy="3.1">for further research.</tspan></text><text class="f" x="4" y="36">Interview, 26 Sep 19</text></g>
<g id="oi-181-2" transform="translate(181,526)"><rect class="n B" width="41" height="41"/><use href="#mk"/><text class="s" y="8.5"><tspan x="4">OpenPermId serves as</tspan><tspan x="4" dy="3.4">a data marketplace for</tspan><tspan x="4" dy="3.4">multiple data</tspan><tspan x="4" dy="3.4">providers. PermId itself</tspan><tspan x="4" dy="3.4">is the pipeline that</tspan><tspan x="4" dy="3.4">aggregates the data.</tspan></text><text class="f k" x="4" y="35.5">permid.org</text></g>
<g id="oi-181-3" transform="translate(181,573)"><rect class="n B" width="41" height="41"/><use href="#mk"/><text class="s" y="8.5"><tspan x="4">"It would be super nice if</tspan><tspan x="4" dy="3.4">there are more and more</tspan><tspan x="4" dy="3.4">tools that help the</tspan><tspan x="4" dy="3.4">investors to do</tspan><tspan x="4" dy="3.4">well-informed decision in</tspan><tspan x="4" dy="3.4">creating social impact."</tspan></text><text class="f" x="4" y="36">Interview, 26 Sep 19</text></g>

<g id="oi-229-1" transform="translate(229,479)"><rect class="n B" width="41" height="41"/><use href="#mk"/><text class="s" y="8.5"><tspan x="4">I think what happens</tspan><tspan x="4" dy="3.4">is not, "did they not</tspan><tspan x="4" dy="3.4">saying something?"</tspan><tspan x="4" dy="3.4">It's more like "the</tspan><tspan x="4" dy="3.4">interpretation of</tspan><tspan x="4" dy="3.4">facts."</tspan></text><text class="f" x="4" y="36">Interview, 26 Sep 19</text></g>
<g id="oi-229-2" transform="translate(229,526)"><rect class="n A" width="41" height="41"/><use href="#mk"/><text class="s" y="8.5"><tspan x="4">"CSC investors tend to</tspan><tspan x="4" dy="3.4">prefer analysis on</tspan><tspan x="4" dy="3.4">individual companies</tspan><tspan x="4" dy="3.4">over industry level</tspan><tspan x="4" dy="3.4">analysis"</tspan></text><text class="f" x="4" y="31.5">ESG analysis preferences, 2019</text><text class="f" x="4" y="33.5">Investor survey results</text></g>

<g id="oi-379-1" transform="translate(379,479)"><rect class="n B" width="41" height="41"/><use href="#mk"/><text class="s" y="8.5"><tspan x="4">It should be educational</tspan><tspan x="4" dy="3.4">not only the ESG</tspan><tspan x="4" dy="3.4">standards but also the</tspan><tspan x="4" dy="3.4">disclosure frameworks</tspan><tspan x="4" dy="3.4">such as Equator</tspan><tspan x="4" dy="3.4">Principles are</tspan><tspan x="4" dy="3.4">introduced.</tspan></text><text class="f" x="4" y="36">Interview, 26 Sep 19</text></g>
<g id="oi-379-2" transform="translate(379,526)"><rect class="n A" width="41" height="41"/><use href="#mk"/><text class="s" y="8.5"><tspan x="4">The data from Work Ahead</tspan><tspan x="4" dy="3.1">should be relevant and</tspan><tspan x="4" dy="3.1">accurate, and this gives</tspan><tspan x="4" dy="3.1">the sense that it really</tspan><tspan x="4" dy="3.1">reflects the real situation of</tspan><tspan x="4" dy="3.1">that working environment.</tspan></text><text class="f" x="4" y="36">Interview, 24 Sep 2019</text></g>
<g id="oi-379-3" transform="translate(379,573)"><rect class="n A" width="41" height="41"/><use href="#mk"/><text class="l" y="9.5"><tspan x="4">The transparency</tspan><tspan x="4" dy="4.7">of research method</tspan><tspan x="4" dy="4.7">would be beneficial</tspan><tspan x="4" dy="4.7">to build up</tspan><tspan x="4" dy="4.7">credibility.</tspan></text><text class="f" x="4" y="36.5">Interview, 24 Sep 2019</text></g>
<g id="oi-379-4" transform="translate(379,624)"><rect class="n A" width="41" height="41"/><use href="#mk"/><text class="l" y="9.5"><tspan x="4">The credibility of</tspan><tspan x="4" dy="4.7">data by Work</tspan><tspan x="4" dy="4.7">Ahead is critically</tspan><tspan x="4" dy="4.7">important.</tspan></text><text class="f" x="4" y="36.5">Interview, 24 Sep 2019</text></g>

<g id="oi-426-1" transform="translate(426,479)"><rect class="n B" width="41" height="41"/><use href="#mk"/><text class="s" y="8.5"><tspan x="4">People need a better survey</tspan><tspan x="4" dy="3.1">to be developed, and</tspan><tspan x="4" dy="3.1">reporting to feed the real</tspan><tspan x="4" dy="3.1">facts to build up impact</tspan><tspan x="4" dy="3.1">real situation in practice</tspan><tspan x="4" dy="3.1">responses.</tspan></text><text class="f k" x="4" y="35.5">Read more</text></g>
<g id="oi-426-2" transform="translate(426,526)"><rect class="n A" width="41" height="41"/><use href="#mk"/><text class="s" y="8.5"><tspan x="4">Challenges will only be solved</tspan><tspan x="4" dy="3.1">processes and on needing it</tspan><tspan x="4" dy="3.1">better at there the managers,</tspan><tspan x="4" dy="3.1">as more efficient and seamless.</tspan><tspan x="4" dy="3.1">Make sure that the data</tspan><tspan x="4" dy="3.1">confidential and also data</tspan><tspan x="4" dy="3.1">condition of hearing</tspan><tspan x="4" dy="3.1">investment decisions.</tspan></text><text class="f" x="4" y="36">Interview, 24 Sep 2019</text></g>
<g id="oi-426-3" transform="translate(426,573)"><rect class="n C" width="41" height="41"/><use href="#mk"/><text class="m" y="9.5"><tspan x="4">In what stage of</tspan><tspan x="4" dy="4">investing and scaling</tspan><tspan x="4" dy="4">up for a startup can</tspan><tspan x="4" dy="4">the service be</tspan><tspan x="4" dy="4">embedded?</tspan></text><text class="f" x="4" y="36">Interview, 26 Sep 19</text></g>
<g id="oi-426-4" transform="translate(426,624)"><rect class="n C" width="41" height="41"/><use href="#mk"/><text class="s" y="9"><tspan x="4">It should show the</tspan><tspan x="4" dy="3.6">context of the survey</tspan><tspan x="4" dy="3.6">(e.g. why we do this</tspan><tspan x="4" dy="3.6">survey, and baseline</tspan><tspan x="4" dy="3.6">that "why"; how we do</tspan><tspan x="4" dy="3.6">the survey? The scope of</tspan><tspan x="4" dy="3.6">the survey?).</tspan></text><text class="f" x="4" y="36.5">Interview, 26 Sep 19</text></g>

<g id="oi-480-1" transform="translate(480,479)"><rect class="n C" width="41" height="41"/><use href="#mk"/><text class="s" y="8.5"><tspan x="4">It should provide</tspan><tspan x="4" dy="3.3">comparison function</tspan><tspan x="4" dy="3.3">which makes visual</tspan><tspan x="4" dy="3.3">sense of the rate of</tspan><tspan x="4" dy="3.3">longitudinal</tspan><tspan x="4" dy="3.3">performance.</tspan></text><text class="f" x="4" y="36">Interview, 26 Sep 19</text></g>
<g id="oi-480-2" transform="translate(480,526)"><rect class="n C" width="41" height="41"/><use href="#mk"/><text class="s" y="8.5"><tspan x="4">"We value the</tspan><tspan x="4" dy="3.3">momentum, it would be</tspan><tspan x="4" dy="3.3">good if the survey can</tspan><tspan x="4" dy="3.3">help us to track the</tspan><tspan x="4" dy="3.3">progress/rising status</tspan><tspan x="4" dy="3.3">than just a single one"</tspan></text><text class="f" x="4" y="36">Interview, 26 Sep 19</text></g>
<g id="oi-480-3" transform="translate(480,573)"><rect class="n A" width="41" height="41"/><use href="#mk"/><text class="s" y="8.5"><tspan x="4">The prospective will review</tspan><tspan x="4" dy="3.1">their performance in the past.</tspan><tspan x="4" dy="3.1">They're attracted to the</tspan><tspan x="4" dy="3.1">positive direction they compare,</tspan><tspan x="4" dy="3.1">these changes they can provide</tspan><tspan x="4" dy="3.1">early leadership they present,</tspan><tspan x="4" dy="3.1">allow them to improve the</tspan><tspan x="4" dy="3.1">situation in their opportunity.</tspan></text><text class="f" x="4" y="36.5">Interview, 24 Sep 2019</text></g>

<g id="oi-527-1" transform="translate(527,479)"><rect class="n B" width="41" height="41"/><use href="#mk"/><text class="s" y="8.5"><tspan x="4">Create an atmosphere of</tspan><tspan x="4" dy="3.3">peer-to-peer cooperation</tspan><tspan x="4" dy="3.3">rather than external</tspan><tspan x="4" dy="3.3">audit between</tspan><tspan x="4" dy="3.3">stakeholders</tspan></text><text class="f" x="4" y="36">Interview, 26 Sep 19</text></g>
<g id="oi-527-2" transform="translate(527,526)"><rect class="n B" width="41" height="41"/><use href="#mk"/><text class="s" y="8.5"><tspan x="4">The factory manager</tspan><tspan x="4" dy="3.3">might have these fears</tspan><tspan x="4" dy="3.3">from previous auditing</tspan><tspan x="4" dy="3.3">experience that only</tspan><tspan x="4" dy="3.3">blame them are still</tspan><tspan x="4" dy="3.3">checking.</tspan></text><text class="f" x="4" y="36">Interview, 26 Sep 19</text></g>
<g id="oi-527-3" transform="translate(527,573)"><rect class="n B" width="41" height="41"/><use href="#mk"/><text class="s" y="8.5"><tspan x="4">They have meetings with</tspan><tspan x="4" dy="3.3">the founders regularly</tspan><tspan x="4" dy="3.3">(perhaps once in two</tspan><tspan x="4" dy="3.3">months), to make sure</tspan><tspan x="4" dy="3.3">of feeling of regularity.</tspan></text><text class="f" x="4" y="36">Interview, 26 Sep 19</text></g>

<g id="oi-575-1" transform="translate(575,479)"><rect class="n C" width="41" height="41"/><use href="#mk"/><text class="l" y="9.5"><tspan x="4">Probing questions</tspan><tspan x="4" dy="4.7">are needed after</tspan><tspan x="4" dy="4.7">the structural</tspan><tspan x="4" dy="4.7">surveys are</tspan><tspan x="4" dy="4.7">conducted.</tspan></text><text class="f" x="4" y="36.5">Interview, 26 Sep 19</text></g>
<g id="oi-575-2" transform="translate(575,526)"><rect class="n C" width="41" height="41"/><use href="#mk"/><text class="l" y="9.5"><tspan x="4">The investees and</tspan><tspan x="4" dy="4.7">investors may</tspan><tspan x="4" dy="4.7">negotiate what</tspan><tspan x="4" dy="4.7">survey to do.</tspan></text><text class="f" x="4" y="36.5">Interview, 26 Sep 19</text></g>
<g id="oi-575-3" transform="translate(575,573)"><rect class="n C" width="41" height="41"/><use href="#mk"/><text class="l" y="9.5"><tspan x="4">The service can be</tspan><tspan x="4" dy="4.7">a project rather</tspan><tspan x="4" dy="4.7">than providing</tspan><tspan x="4" dy="4.7">standards of</tspan><tspan x="4" dy="4.7">investment.</tspan></text><text class="f" x="4" y="36.5">Interview, 26 Sep 19</text></g>
<g id="oi-575-4" transform="translate(575,624)"><rect class="n B" width="41" height="41"/><use href="#mk"/><text class="s" y="8.5"><tspan x="4">"I'm not sure it's of the</tspan><tspan x="4" dy="3.1">solution so what you want</tspan><tspan x="4" dy="3.1">it does the piece of paper, is</tspan><tspan x="4" dy="3.1">that enough?" A more</tspan><tspan x="4" dy="3.1">tailored company and</tspan><tspan x="4" dy="3.1">consulting service for</tspan><tspan x="4" dy="3.1">improvement may be</tspan><tspan x="4" dy="3.1">needed.</tspan></text><text class="f" x="4" y="36.5">Interview, 26 Sep 19</text></g>

<g id="oi-623-1" transform="translate(623,479)"><rect class="n B" width="41" height="41"/><use href="#mk"/><text class="s" y="8.5"><tspan x="4">Important to think how</tspan><tspan x="4" dy="3.1">to make the managers</tspan><tspan x="4" dy="3.1">feel involved in the</tspan><tspan x="4" dy="3.1">survey and understand</tspan><tspan x="4" dy="3.1">the benefits? perhaps</tspan><tspan x="4" dy="3.1">showing a simple report in</tspan><tspan x="4" dy="3.1">next turn.</tspan></text><text class="f" x="4" y="36">Interview, 26 Sep 19</text></g>
<g id="oi-623-2" transform="translate(623,526)"><rect class="n B" width="41" height="41"/><use href="#mk"/><text class="s" y="8.5"><tspan x="4">"Maybe there should be a</tspan><tspan x="4" dy="3.1">step forward, for working</tspan><tspan x="4" dy="3.1">results, making action</tspan><tspan x="4" dy="3.1">among the investors,</tspan><tspan x="4" dy="3.1">and looking at the agenda</tspan><tspan x="4" dy="3.1">and asking the questions</tspan><tspan x="4" dy="3.1">after the time."</tspan></text><text class="f" x="4" y="36">Interview, 26 Sep 19</text></g>

<g id="oi-670-1" transform="translate(670,479)"><rect class="n B" width="41" height="41"/><use href="#mk"/><text class="s" y="8.5"><tspan x="4">"I took a look on your</tspan><tspan x="4" dy="3.1">approach a lot because</tspan><tspan x="4" dy="3.1">it's very genuine like very</tspan><tspan x="4" dy="3.1">close collaboration with</tspan><tspan x="4" dy="3.1">the founders and very</tspan><tspan x="4" dy="3.1">open communication"</tspan></text><text class="f" x="4" y="36">Interview, 26 Sep 19</text></g>
<g id="oi-670-2" transform="translate(670,526)"><rect class="n A" width="41" height="41"/><use href="#mk"/><text class="s" y="8.5"><tspan x="4">Co-capability building</tspan><tspan x="4" dy="3.3">should be used instead</tspan><tspan x="4" dy="3.3">of traditional compliance</tspan><tspan x="4" dy="3.3">programs such as factory</tspan><tspan x="4" dy="3.3">audits</tspan></text><text class="f" x="4" y="31">Beyond compliance, labour standards</text><text class="f" x="4" y="33">in global supply chains, 2013</text></g>
<g id="oi-670-3" transform="translate(670,573)"><rect class="n A" width="41" height="41"/><use href="#mk"/><text class="s" y="8.5"><tspan x="4">"The commitment is better</tspan><tspan x="4" dy="3.1">approach based on joint</tspan><tspan x="4" dy="3.1">problem solving, information</tspan><tspan x="4" dy="3.1">exchange, and the diffusion of</tspan><tspan x="4" dy="3.1">best practices. This has</tspan><tspan x="4" dy="3.1">sustained improvements in</tspan><tspan x="4" dy="3.1">working conditions and labor</tspan><tspan x="4" dy="3.1">rights at these factories"</tspan></text><text class="f" x="4" y="34">Locke, Qin and Brause, 2007</text><text class="f" x="4" y="36">Does monitoring improve labor standards</text></g>
<g id="oi-670-4" transform="translate(670,621)"><rect class="n A" width="41" height="41"/><use href="#mk"/><text class="s" y="8.5"><tspan x="4">The current auditing does not</tspan><tspan x="4" dy="3.1">work effectively. There are good</tspan><tspan x="4" dy="3.1">examples from ILO, many</tspan><tspan x="4" dy="3.1">companies information</tspan><tspan x="4" dy="3.1">sourcing global consolidation</tspan><tspan x="4" dy="3.1">on management and</tspan></text><text class="f k" x="4" y="27">Capitalise whether it can be</text><text class="f" x="4" y="29">Bangladesh (2018)</text><text class="f k" x="4" y="35">Read more about this one</text></g>

<g id="oi-718-1" transform="translate(718,479)"><rect class="n C" width="41" height="41"/><use href="#mk"/><text class="s" y="8.5"><tspan x="4">Having a discussion</tspan><tspan x="4" dy="3.1">based and facilitated</tspan><tspan x="4" dy="3.1">Guidance might be a good</tspan><tspan x="4" dy="3.1">idea to help the</tspan><tspan x="4" dy="3.1">stakeholders to share</tspan><tspan x="4" dy="3.1">their views and establish</tspan><tspan x="4" dy="3.1">long-term engagement.</tspan></text><text class="f" x="4" y="36">Interview, 26 Sep 19</text></g>
<g id="oi-718-2" transform="translate(718,526)"><rect class="n B" width="41" height="41"/><use href="#mk"/><text class="l" y="9.5"><tspan x="4">Data as an</tspan><tspan x="4" dy="4.7">approach to</tspan><tspan x="4" dy="4.7">engage all team</tspan><tspan x="4" dy="4.7">members</tspan></text><text class="f" x="4" y="36.5">Interview, 26 Sep 19</text></g>
<g id="oi-718-3" transform="translate(718,573)"><rect class="n B" width="41" height="41"/><use href="#mk"/><text class="m" y="9.5"><tspan x="4">Agile due diligence</tspan><tspan x="4" dy="4.2">- combine it with</tspan><tspan x="4" dy="4.2">engagement for</tspan><tspan x="4" dy="4.2">improvement</tspan></text><text class="f" x="4" y="36.5">Interview, 26 Sep 19</text></g>

<g id="oi-765-1" transform="translate(765,479)"><rect class="n B" width="41" height="41"/><use href="#mk"/><text class="s" y="8.5"><tspan x="4">"I think people like</tspan><tspan x="4" dy="3.4">you will help the</tspan><tspan x="4" dy="3.4">founders consider</tspan><tspan x="4" dy="3.4">those (impact)</tspan><tspan x="4" dy="3.4">things."</tspan></text><text class="f" x="4" y="36">Interview, 26 Sep 19</text></g>
<g id="oi-765-2" transform="translate(765,526)"><rect class="n A" width="41" height="41"/><use href="#mk"/><text class="s" y="8.5"><tspan x="4">The practices of data</tspan><tspan x="4" dy="3.1">collection and</tspan><tspan x="4" dy="3.1">implementation of</tspan><tspan x="4" dy="3.1">Integrated Reporting is a</tspan><tspan x="4" dy="3.1">way to educate their</tspan><tspan x="4" dy="3.1">investors the concept of</tspan><tspan x="4" dy="3.1">ESG and to enhance their</tspan><tspan x="4" dy="3.1">ESG performance.</tspan></text><text class="f" x="4" y="36.5">Interview, 24 Sep 2019</text></g>

<g id="oi-827-1" transform="translate(827,479)"><rect class="n C" width="41" height="41"/><use href="#mk"/><text class="s" y="8.5"><tspan x="4">"Startup doesn't</tspan><tspan x="4" dy="3.4">have money to do</tspan><tspan x="4" dy="3.4">the research. Who</tspan><tspan x="4" dy="3.4">should pay for the</tspan><tspan x="4" dy="3.4">service?"</tspan></text><text class="f" x="4" y="36">Interview, 26 Sep 19</text></g>
<g id="oi-827-2" transform="translate(827,526)"><rect class="n C" width="41" height="41"/><use href="#mk"/><text class="s" y="8.5"><tspan x="4">The investors</tspan><tspan x="4" dy="3.4">might do research</tspan><tspan x="4" dy="3.4">about the</tspan><tspan x="4" dy="3.4">preference of their</tspan><tspan x="4" dy="3.4">investors.</tspan></text><text class="f" x="4" y="36">Interview, 26 Sep 19</text></g>
</svg>
